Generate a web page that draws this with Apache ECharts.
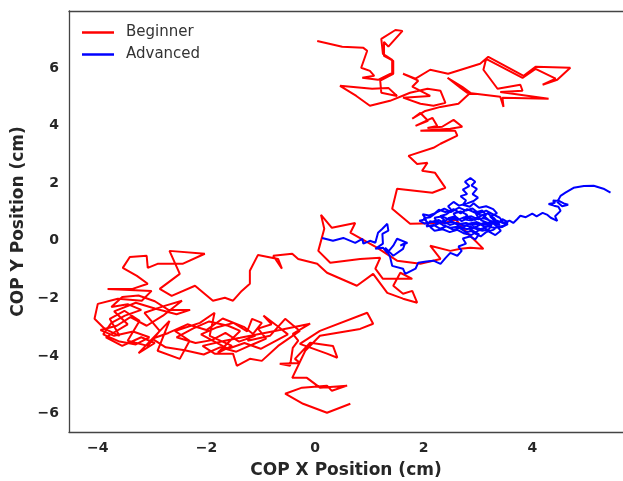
<!DOCTYPE html>
<html>
<head>
<meta charset="utf-8">
<script src="https://cdn.jsdelivr.net/npm/echarts@6/dist/echarts.min.js"></script>
<style>
  html, body { margin: 0; padding: 0; background: #fff; }
  #chart { width: 623px; height: 481px; }
</style>
</head>
<body>
<div id="chart"></div>
<script>
// COP trajectories (cm)
const beginnerX = [
  0.04, 0.50, 0.89, 0.96, 0.85, 1.01, 1.09, 0.87, 1.16, 1.42, 1.42, 1.25, 1.22, 1.48, 1.61, 1.35, 1.27, 1.27, 1.44, 1.44,
  1.20, 1.22, 1.51, 1.35, 1.05, 0.46, 0.76, 1.01, 1.38, 1.75, 2.07, 2.31, 2.40, 2.18, 1.94, 1.62, 2.12, 1.79, 1.90, 1.75,
  1.62, 1.85, 2.12, 2.45, 3.04, 3.19, 3.84, 4.06, 4.70, 4.46, 4.19, 4.43, 4.06, 3.82, 3.15, 3.10, 3.36, 3.78, 3.82, 3.41,
  4.30, 3.45, 3.47, 3.41, 2.80, 2.68, 2.44, 2.71, 2.86, 2.64, 2.31, 2.03, 1.79, 1.94, 2.08, 1.85, 2.16, 2.25, 2.07, 2.34,
  2.55, 2.71, 2.49, 1.94, 2.58, 2.62, 2.31, 2.18, 1.72, 1.88, 2.07, 1.97, 2.21, 2.40, 2.16, 1.51, 1.42, 1.75, 2.40, 2.58,
  2.80, 2.95, 3.10, 2.86, 2.68, 2.49, 2.12, 2.31, 1.94, 1.51, 1.14, 0.65, 0.74, 0.31, 0.11, 0.17, 0.06, 0.28, 0.83, 1.20,
  1.11, 1.25, 1.79, 1.57, 1.44, 1.62, 1.79, 1.88, 1.62, 1.33, 1.07, 0.77, 0.22, 0.04, -0.31, -0.42, -0.77, -0.61, -0.68, -1.05,
  -1.20, -1.20, -1.35, -1.51, -1.66, -1.88, -2.21, -2.64, -2.86, -2.49, -2.68, -2.03, -2.44, -2.90, -3.08, -3.10, -3.41, -3.54, -3.28, -3.08,
  -3.36, -3.82, -3.01, -3.19, -3.63, -4.00, -4.06, -3.87, -3.60, -3.78, -3.51, -3.23, -3.45, -3.08, -2.86, -3.14, -2.77, -2.45,
  -2.80, -3.10, -3.40, -3.65, -3.95, -3.70, -3.35, -3.05, -3.30, -3.60, -3.90, -3.75, -3.50, -3.20, -3.45, -3.75, -3.55, -3.25, -2.95, -2.70,
  -2.30, -2.55,
  -2.95, -3.30, -3.70, -3.45, -3.85, -3.55, -3.20, -2.95, -3.25, -2.68, -2.90, -2.49, -2.31, -2.58, -2.12, -1.85, -1.94, -1.53, -1.79, -1.38,
  -1.60, -1.95, -2.25, -2.55, -2.20, -1.90, -1.65, -1.40, -1.10, -1.30, -1.70, -2.00, -2.35, -2.70, -3.00, -2.75, -2.40, -2.05, -1.75, -1.45,
  -1.15, -0.90, -1.05, -0.80, -0.95,
  -0.70, -0.50, -0.75, -1.00, -1.30, -1.60, -1.85, -2.10, -1.80, -1.50, -1.25,
  -1.16, -0.98, -1.24, -0.83, -0.55, -0.28, -0.68, -0.98, -1.20, -1.44, -1.51, -1.85, -2.07, -1.66, -1.38, -0.74, -0.09, -0.41, -0.31, -0.41,
  -0.46, -0.65, -0.28, -0.37, -0.09, 0.33, 0.41, 0.22, -0.28, 0.09, 0.96, 1.07, 0.83, 0.09, -0.18, -0.42, -0.15, 0.09, 0.59, 0.31,
  0.22, -0.24, -0.55, -0.22, 0.22, 0.65
];
const beginnerY = [
  6.94, 6.74, 6.70, 6.60, 6.01, 5.90, 5.73, 5.66, 5.59, 5.83, 6.28, 6.49, 7.01, 7.32, 7.29, 6.74, 6.91, 6.42, 6.25, 5.80,
  5.56, 5.14, 5.03, 5.31, 5.28, 5.38, 5.03, 4.69, 4.86, 5.14, 5.28, 5.21, 4.79, 4.69, 4.76, 4.97, 5.03, 5.35, 5.56, 5.69,
  5.80, 5.63, 5.94, 5.80, 6.15, 6.39, 5.73, 6.04, 6.01, 5.59, 5.42, 5.63, 5.97, 5.66, 6.32, 5.94, 5.28, 5.42, 5.21, 5.17,
  4.93, 4.97, 4.65, 5.00, 5.14, 5.31, 5.66, 5.35, 5.14, 4.76, 4.65, 4.51, 4.24, 4.44, 4.17, 3.99, 4.27, 3.99, 3.92, 3.96,
  4.20, 3.96, 3.89, 3.82, 3.82, 3.65, 3.37, 3.23, 2.95, 2.67, 2.71, 2.43, 2.36, 1.84, 1.67, 1.81, 1.11, 0.59, 0.62, 0.76,
  0.28, 0.00, -0.28, -0.24, -0.28, -0.35, -0.17, -0.63, -0.80, -0.69, -0.24, 0.28, 0.62, 0.45, 0.90, 0.42, -0.35, -0.76, -0.63, -0.59,
  -0.97, -1.32, -1.32, -1.11, -1.56, -1.84, -1.74, -2.15, -2.01, -1.81, -1.15, -1.56, -1.11, -0.80, -0.63, -0.45, -0.52, -0.97, -0.63, -0.49,
  -1.04, -1.49, -1.74, -2.08, -1.98, -2.08, -1.56, -1.91, -1.67, -1.15, -0.35, -0.45, -0.80, -0.80, -0.94, -0.52, -0.56, -0.94, -1.22, -1.49,
  -1.67, -1.67, -1.74, -2.08, -2.01, -2.19, -2.71, -3.06, -3.30, -2.71, -2.43, -2.78, -3.47, -3.65, -3.13, -2.50, -2.26, -2.08,
  -2.60, -2.95, -2.65, -2.95, -3.10, -3.30, -3.15, -3.35, -3.60, -3.50, -3.25, -2.85, -2.60, -2.40, -2.20, -2.30, -1.95, -1.90, -2.10, -2.40,
  -2.40, -2.55,
  -2.35, -2.15, -2.45, -2.90, -3.35, -3.65, -3.35, -3.55, -3.90, -2.78, -3.82, -4.10, -3.47, -3.13, -2.85, -2.50, -3.30, -3.65, -3.89, -3.13,
  -2.95, -2.80, -3.05, -3.35, -3.55, -3.45, -3.20, -3.50, -3.30, -3.00, -2.70, -3.10, -2.90, -3.20, -3.40, -3.70, -3.80, -3.95, -3.70, -3.85,
  -3.60, -3.40, -3.05, -2.90, -2.60,
  -2.95, -3.25, -3.50, -3.75, -3.55, -3.75, -3.50, -3.25, -3.00, -2.85, -3.15,
  -2.71, -2.85, -3.47, -3.30, -2.71, -3.13, -3.65, -4.17, -4.10, -4.34, -3.92, -3.92, -3.65, -3.47, -3.37, -3.13, -2.88, -3.23, -3.47, -3.72,
  -4.34, -4.27, -4.24, -4.10, -3.54, -3.65, -4.06, -3.92, -3.58, -3.13, -2.50, -2.88, -3.06, -3.30, -3.82, -4.76, -4.76, -5.10, -5.03, -5.21,
  -5.03, -5.10, -5.31, -5.66, -5.97, -5.66
];
const advancedX = [
  0.13, 0.33, 0.52, 0.74, 0.87, 0.89, 1.01, 1.11, 1.16, 1.24, 1.33, 1.35, 1.24, 1.25, 1.11, 1.25, 1.33, 1.44, 1.51, 1.70,
  1.57, 1.66, 1.62, 1.44, 1.35, 1.29, 1.38, 1.42, 1.62, 1.66, 1.85, 1.90, 2.05, 2.18, 2.31, 2.40, 2.49, 2.62, 2.70, 2.64,
  2.78, 2.72, 2.85, 2.95, 3.02, 2.90, 2.78, 2.66, 2.55, 2.42, 2.30, 2.18, 2.05, 2.12, 2.25, 2.20, 2.35, 2.48, 2.60, 2.55,
  2.68, 2.80, 2.74, 2.88, 3.00, 2.95, 3.08, 3.15, 3.05, 3.18, 3.30, 3.22, 3.35, 3.28, 3.15, 3.02, 2.92, 2.85, 2.72, 2.78,
  2.68, 2.80, 2.72, 2.84, 2.76, 2.86, 2.95, 2.88, 2.98, 2.90, 3.00, 2.92, 2.80, 2.65, 2.55, 2.45, 2.52, 2.40, 2.28, 2.20,
  2.10, 1.98, 2.05, 1.92, 2.02, 2.15, 2.28, 2.40, 2.52, 2.65, 2.78, 2.90, 3.02, 3.12, 3.25, 3.20, 3.08, 2.96, 2.85, 2.72,
  2.60, 2.48, 2.38, 2.50, 2.62, 2.75, 2.88, 3.00, 3.12, 3.25, 3.38, 3.45, 3.55, 3.48, 3.35, 3.28, 3.15, 3.05, 2.95, 2.85,
  2.98, 3.10, 3.22, 3.30, 3.40,
  3.30, 3.18, 3.05, 2.92, 2.80, 2.68, 2.55, 2.42, 2.30, 2.38, 2.25, 2.12, 2.20, 2.35, 2.48, 2.62, 2.75, 2.88, 3.00, 3.12,
  3.22, 3.32, 3.42, 3.35, 3.20, 3.08, 2.95, 2.82, 2.70, 2.58, 2.45, 2.58, 2.70, 2.85, 2.98, 3.10, 3.22, 3.35, 3.48,
  3.40, 3.28, 3.15, 3.02, 2.90, 2.78, 2.65, 2.50, 2.38, 2.25, 2.12, 2.00, 2.08, 2.22, 2.35, 2.50, 2.65, 2.80, 2.92, 3.05,
  3.18, 3.30, 3.45, 3.55,
  3.47, 3.58, 3.65, 3.72, 3.78, 3.88, 4.00, 4.08, 4.19, 4.28, 4.34, 4.46, 4.42, 4.52, 4.48,
  4.40, 4.30, 4.42, 4.38, 4.50, 4.58, 4.66, 4.55, 4.46, 4.52, 4.61, 4.76, 4.95, 5.13, 5.31, 5.44
];
const advancedY = [
  0.10, 0.00, 0.10, -0.07, 0.07, -0.10, 0.00, -0.07, 0.28, 0.42, 0.59, 0.35, 0.24, -0.10, -0.28, -0.24, -0.42, -0.17, 0.07, -0.07,
  -0.17, -0.07, -0.28, -0.52, -0.35, -0.24, -0.55, -0.87, -0.97, -1.15, -0.97, -0.76, -0.72, -0.69, -0.80, -0.60, -0.42, -0.52, -0.35, -0.20,
  -0.10, 0.08, 0.15, 0.05, 0.22, 0.35, 0.30, 0.45, 0.38, 0.50, 0.42, 0.55, 0.50, 0.68, 0.62, 0.80, 0.85, 0.72, 0.80, 0.95,
  1.02, 0.90, 0.75, 0.70, 0.82, 0.98, 1.05, 0.90, 0.72, 0.62, 0.70, 0.85, 0.95, 1.10, 1.20, 1.15, 1.30, 1.18, 1.25, 1.40,
  1.55, 1.62, 1.78, 1.90, 2.05, 2.18, 2.05, 1.92, 1.80, 1.62, 1.50, 1.38, 1.30, 1.22, 1.35, 1.20, 1.05, 1.00, 1.08, 0.95,
  0.88, 0.92, 0.75, 0.70, 0.60, 0.65, 0.72, 0.60, 0.66, 0.58, 0.62, 0.55, 0.60, 0.48, 0.55, 0.40, 0.35, 0.42, 0.50, 0.55,
  0.62, 0.55, 0.68, 0.80, 0.72, 0.82, 0.85, 0.75, 0.78, 0.68, 0.62, 0.75, 0.65, 0.52, 0.48, 0.38, 0.30, 0.15, 0.25, 0.38,
  0.50, 0.62, 0.55, 0.62, 0.55,
  0.78, 0.95, 0.88, 1.00, 1.10, 0.95, 1.10, 0.92, 0.85, 0.72, 0.58, 0.48, 0.35, 0.40, 0.30, 0.38, 0.25, 0.20, 0.35, 0.45,
  0.30, 0.20, 0.35, 0.50, 0.72, 0.90, 0.72, 0.80, 0.68, 0.85, 0.78, 0.60, 0.45, 0.60, 0.65, 0.55, 0.62, 0.70, 0.60,
  0.80, 0.92, 1.05, 0.95, 1.12, 1.05, 1.15, 1.00, 1.12, 1.00, 0.82, 0.78, 0.62, 0.70, 0.55, 0.45, 0.50, 0.40, 0.48, 0.40,
  0.50, 0.45, 0.48, 0.58,
  0.62, 0.70, 0.62, 0.75, 0.87, 0.82, 0.94, 0.85, 0.97, 0.90, 0.80, 0.69, 0.85, 1.04, 1.18,
  1.22, 1.28, 1.32, 1.40, 1.38, 1.30, 1.25, 1.20, 1.35, 1.56, 1.67, 1.84, 1.90, 1.91, 1.81, 1.67
];
const xTicks = [-4, -2, 0, 2, 4];
const yTicks = [-6, -4, -2, 0, 2, 4, 6];

function pairs(xs, ys) {
    return xs.map(function (x, i) { return [x, ys[i]]; });
}
function minusSign(v) {
    return String(v).replace('-', '\u2212');
}

let myChart = echarts.init(document.getElementById('chart'));

// 外框线（右侧在画布之外）
let spine = { show: true, onZero: false, lineStyle: { color: '#444', width: 1.3 } };

let option = {
    animation: false,
    backgroundColor: '#fff',
    textStyle: { fontFamily: 'DejaVu Sans' },
    grid: { left: 69, top: 11, right: 0, bottom: 49, outerBoundsMode: 'none' },
    legend: {
        left: 77, top: 20, orient: 'vertical',
        icon: 'rect', itemWidth: 32, itemHeight: 2.5, itemGap: 7,
        textStyle: { fontSize: 15, color: '#333', padding: [0, 0, 0, 7] },
        data: ['Beginner', 'Advanced']
    },
    xAxis: [
        {
            type: 'value', min: -4.53, max: 5.67,
            name: 'COP X Position (cm)', nameLocation: 'middle', nameGap: 30,
            nameTextStyle: { fontSize: 17, fontWeight: 'bold', color: '#262626' },
            axisLine: spine,
            axisTick: { show: false },
            splitLine: { show: false },
            axisLabel: {
                customValues: xTicks, fontSize: 14, fontWeight: 'bold', color: '#262626', margin: 9,
                formatter: minusSign
            }
        },
        {
            type: 'value', position: 'top', min: -4.53, max: 5.67,
            axisLine: spine, axisTick: { show: false }, axisLabel: { show: false }, splitLine: { show: false }
        }
    ],
    yAxis: {
        type: 'value', min: -6.64, max: 7.98,
        name: 'COP Y Position (cm)', nameLocation: 'middle', nameGap: 40,
        nameTextStyle: { fontSize: 17, fontWeight: 'bold', color: '#262626' },
        axisLine: spine,
        axisTick: { show: false },
        splitLine: { show: false },
        axisLabel: {
            customValues: yTicks, fontSize: 14, fontWeight: 'bold', color: '#262626', margin: 10,
            formatter: minusSign
        }
    },
    series: [
        {
            name: 'Beginner', type: 'line', showSymbol: false, symbol: 'none',
            color: '#ff0000', lineStyle: { width: 2, color: '#ff0000' },
            data: pairs(beginnerX, beginnerY)
        },
        {
            name: 'Advanced', type: 'line', showSymbol: false, symbol: 'none',
            color: '#0000ff', lineStyle: { width: 2, color: '#0000ff' },
            data: pairs(advancedX, advancedY)
        }
    ]
};

myChart.setOption(option);
</script>
</body>
</html>
